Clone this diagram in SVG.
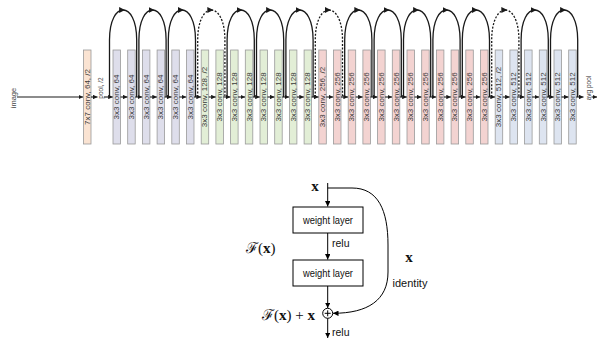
<svg xmlns="http://www.w3.org/2000/svg" width="597" height="340" viewBox="0 0 597 340">
<defs>
<style>
.b{stroke:#9a9a9a;stroke-width:0.8}
.c0{fill:#fae3d2}.c1{fill:#dedeeb}.c2{fill:#e2eed6}.c3{fill:#f3d3d1}.c4{fill:#dde4f0}
.bl{font-family:"Liberation Sans",Arial,sans-serif;font-size:8px;fill:#3a3a3a;text-anchor:middle;dominant-baseline:central}
.sl{font-family:"Liberation Sans",Arial,sans-serif;font-size:6.5px;fill:#444;text-anchor:middle;dominant-baseline:central}
.ln{stroke:#1a1a1a;stroke-width:1.1;fill:none}
.ar{stroke:#1a1a1a;stroke-width:1.3;fill:none}
.da{stroke-dasharray:2 1.6}
.wb{fill:#fff;stroke:#000;stroke-width:1}
.wt{font-family:"Liberation Sans",Arial,sans-serif;font-size:10.5px;fill:#111}
.mx{font-family:"Liberation Serif","Times New Roman",serif;font-size:15px;fill:#111}
.bx{font-family:"Liberation Serif","Times New Roman",serif;font-size:15px;font-weight:bold;fill:#111}
.k{stroke:#000;stroke-width:1;fill:none}
</style>
<marker id="h" viewBox="0 0 6 6" refX="6" refY="3" markerWidth="4.5" markerHeight="4.5" markerUnits="userSpaceOnUse" orient="auto"><path d="M0,0L6,3L0,6z" fill="#1a1a1a"/></marker>
<marker id="ha" viewBox="0 0 6 6" refX="4" refY="3" markerWidth="6" markerHeight="6" markerUnits="userSpaceOnUse" orient="auto"><path d="M0,0L6,3L0,6z" fill="#1a1a1a"/></marker>
<marker id="hb" viewBox="0 0 6 6" refX="6" refY="3" markerWidth="5.5" markerHeight="5.5" markerUnits="userSpaceOnUse" orient="auto"><path d="M0,0L6,3L0,6z" fill="#000"/></marker>
</defs>

<g id="image"><text class="sl" transform="translate(13,98) rotate(-90)" style="font-size:7.5px">image</text></g>
<g id="conv1"><rect class="b c0" x="83.5" y="50" width="7.5" height="94"/><text class="bl" transform="translate(87.25,97) rotate(-90)">7x7 conv, 64, /2</text></g>
<g id="pool"><text class="sl" transform="translate(100.5,88) rotate(-90)">pool, /2</text></g>

<g id="b0"><rect class="b c1" x="113" y="50" width="7.5" height="94"/><text class="bl" transform="translate(116.75,97) rotate(-90)">3x3 conv, 64</text></g>
<g id="b1"><rect class="b c1" x="127.7" y="50" width="7.5" height="94"/><text class="bl" transform="translate(131.45,97) rotate(-90)">3x3 conv, 64</text></g>
<g id="b2"><rect class="b c1" x="142.4" y="50" width="7.5" height="94"/><text class="bl" transform="translate(146.15,97) rotate(-90)">3x3 conv, 64</text></g>
<g id="b3"><rect class="b c1" x="157.1" y="50" width="7.5" height="94"/><text class="bl" transform="translate(160.85,97) rotate(-90)">3x3 conv, 64</text></g>
<g id="b4"><rect class="b c1" x="171.8" y="50" width="7.5" height="94"/><text class="bl" transform="translate(175.55,97) rotate(-90)">3x3 conv, 64</text></g>
<g id="b5"><rect class="b c1" x="186.5" y="50" width="7.5" height="94"/><text class="bl" transform="translate(190.25,97) rotate(-90)">3x3 conv, 64</text></g>
<g id="b6"><rect class="b c2" x="201.2" y="50" width="7.5" height="94"/><text class="bl" transform="translate(204.95,97) rotate(-90)">3x3 conv, 128, /2</text></g>
<g id="b7"><rect class="b c2" x="215.9" y="50" width="7.5" height="94"/><text class="bl" transform="translate(219.65,97) rotate(-90)">3x3 conv, 128</text></g>
<g id="b8"><rect class="b c2" x="230.6" y="50" width="7.5" height="94"/><text class="bl" transform="translate(234.35,97) rotate(-90)">3x3 conv, 128</text></g>
<g id="b9"><rect class="b c2" x="245.3" y="50" width="7.5" height="94"/><text class="bl" transform="translate(249.05,97) rotate(-90)">3x3 conv, 128</text></g>
<g id="b10"><rect class="b c2" x="260" y="50" width="7.5" height="94"/><text class="bl" transform="translate(263.75,97) rotate(-90)">3x3 conv, 128</text></g>
<g id="b11"><rect class="b c2" x="274.7" y="50" width="7.5" height="94"/><text class="bl" transform="translate(278.45,97) rotate(-90)">3x3 conv, 128</text></g>
<g id="b12"><rect class="b c2" x="289.4" y="50" width="7.5" height="94"/><text class="bl" transform="translate(293.15,97) rotate(-90)">3x3 conv, 128</text></g>
<g id="b13"><rect class="b c2" x="304.1" y="50" width="7.5" height="94"/><text class="bl" transform="translate(307.85,97) rotate(-90)">3x3 conv, 128</text></g>
<g id="b14"><rect class="b c3" x="318.8" y="50" width="7.5" height="94"/><text class="bl" transform="translate(322.55,97) rotate(-90)">3x3 conv, 256, /2</text></g>
<g id="b15"><rect class="b c3" x="333.5" y="50" width="7.5" height="94"/><text class="bl" transform="translate(337.25,97) rotate(-90)">3x3 conv, 256</text></g>
<g id="b16"><rect class="b c3" x="348.2" y="50" width="7.5" height="94"/><text class="bl" transform="translate(351.95,97) rotate(-90)">3x3 conv, 256</text></g>
<g id="b17"><rect class="b c3" x="362.9" y="50" width="7.5" height="94"/><text class="bl" transform="translate(366.65,97) rotate(-90)">3x3 conv, 256</text></g>
<g id="b18"><rect class="b c3" x="377.6" y="50" width="7.5" height="94"/><text class="bl" transform="translate(381.35,97) rotate(-90)">3x3 conv, 256</text></g>
<g id="b19"><rect class="b c3" x="392.3" y="50" width="7.5" height="94"/><text class="bl" transform="translate(396.05,97) rotate(-90)">3x3 conv, 256</text></g>
<g id="b20"><rect class="b c3" x="407" y="50" width="7.5" height="94"/><text class="bl" transform="translate(410.75,97) rotate(-90)">3x3 conv, 256</text></g>
<g id="b21"><rect class="b c3" x="421.7" y="50" width="7.5" height="94"/><text class="bl" transform="translate(425.45,97) rotate(-90)">3x3 conv, 256</text></g>
<g id="b22"><rect class="b c3" x="436.4" y="50" width="7.5" height="94"/><text class="bl" transform="translate(440.15,97) rotate(-90)">3x3 conv, 256</text></g>
<g id="b23"><rect class="b c3" x="451.1" y="50" width="7.5" height="94"/><text class="bl" transform="translate(454.85,97) rotate(-90)">3x3 conv, 256</text></g>
<g id="b24"><rect class="b c3" x="465.8" y="50" width="7.5" height="94"/><text class="bl" transform="translate(469.55,97) rotate(-90)">3x3 conv, 256</text></g>
<g id="b25"><rect class="b c3" x="480.5" y="50" width="7.5" height="94"/><text class="bl" transform="translate(484.25,97) rotate(-90)">3x3 conv, 256</text></g>
<g id="b26"><rect class="b c4" x="495.2" y="50" width="7.5" height="94"/><text class="bl" transform="translate(498.95,97) rotate(-90)">3x3 conv, 512, /2</text></g>
<g id="b27"><rect class="b c4" x="509.9" y="50" width="7.5" height="94"/><text class="bl" transform="translate(513.65,97) rotate(-90)">3x3 conv, 512</text></g>
<g id="b28"><rect class="b c4" x="524.6" y="50" width="7.5" height="94"/><text class="bl" transform="translate(528.35,97) rotate(-90)">3x3 conv, 512</text></g>
<g id="b29"><rect class="b c4" x="539.3" y="50" width="7.5" height="94"/><text class="bl" transform="translate(543.05,97) rotate(-90)">3x3 conv, 512</text></g>
<g id="b30"><rect class="b c4" x="554" y="50" width="7.5" height="94"/><text class="bl" transform="translate(557.75,97) rotate(-90)">3x3 conv, 512</text></g>
<g id="b31"><rect class="b c4" x="568.7" y="50" width="7.5" height="94"/><text class="bl" transform="translate(572.45,97) rotate(-90)">3x3 conv, 512</text></g>
<g id="avgpool"><text class="sl" transform="translate(588,88) rotate(-90)">avg pool</text></g>

<g id="connectors-top">
<line class="ln" x1="17" y1="97" x2="83" y2="97" marker-end="url(#h)"/>
<line class="ln" x1="91" y1="97" x2="97.5" y2="97" marker-end="url(#h)"/>
<line class="ln" x1="104" y1="97" x2="112.7" y2="97" marker-end="url(#h)"/>
<line class="ln" x1="120.5" y1="97" x2="127.4" y2="97" marker-end="url(#h)"/>
<line class="ln" x1="135.2" y1="97" x2="142.1" y2="97" marker-end="url(#h)"/>
<line class="ln" x1="149.9" y1="97" x2="156.8" y2="97" marker-end="url(#h)"/>
<line class="ln" x1="164.6" y1="97" x2="171.5" y2="97" marker-end="url(#h)"/>
<line class="ln" x1="179.3" y1="97" x2="186.2" y2="97" marker-end="url(#h)"/>
<line class="ln" x1="194" y1="97" x2="200.9" y2="97" marker-end="url(#h)"/>
<line class="ln" x1="208.7" y1="97" x2="215.6" y2="97" marker-end="url(#h)"/>
<line class="ln" x1="223.4" y1="97" x2="230.3" y2="97" marker-end="url(#h)"/>
<line class="ln" x1="238.1" y1="97" x2="245" y2="97" marker-end="url(#h)"/>
<line class="ln" x1="252.8" y1="97" x2="259.7" y2="97" marker-end="url(#h)"/>
<line class="ln" x1="267.5" y1="97" x2="274.4" y2="97" marker-end="url(#h)"/>
<line class="ln" x1="282.2" y1="97" x2="289.1" y2="97" marker-end="url(#h)"/>
<line class="ln" x1="296.9" y1="97" x2="303.8" y2="97" marker-end="url(#h)"/>
<line class="ln" x1="311.6" y1="97" x2="318.5" y2="97" marker-end="url(#h)"/>
<line class="ln" x1="326.3" y1="97" x2="333.2" y2="97" marker-end="url(#h)"/>
<line class="ln" x1="341" y1="97" x2="347.9" y2="97" marker-end="url(#h)"/>
<line class="ln" x1="355.7" y1="97" x2="362.6" y2="97" marker-end="url(#h)"/>
<line class="ln" x1="370.4" y1="97" x2="377.3" y2="97" marker-end="url(#h)"/>
<line class="ln" x1="385.1" y1="97" x2="392" y2="97" marker-end="url(#h)"/>
<line class="ln" x1="399.8" y1="97" x2="406.7" y2="97" marker-end="url(#h)"/>
<line class="ln" x1="414.5" y1="97" x2="421.4" y2="97" marker-end="url(#h)"/>
<line class="ln" x1="429.2" y1="97" x2="436.1" y2="97" marker-end="url(#h)"/>
<line class="ln" x1="443.9" y1="97" x2="450.8" y2="97" marker-end="url(#h)"/>
<line class="ln" x1="458.6" y1="97" x2="465.5" y2="97" marker-end="url(#h)"/>
<line class="ln" x1="473.3" y1="97" x2="480.2" y2="97" marker-end="url(#h)"/>
<line class="ln" x1="488" y1="97" x2="494.9" y2="97" marker-end="url(#h)"/>
<line class="ln" x1="502.7" y1="97" x2="509.6" y2="97" marker-end="url(#h)"/>
<line class="ln" x1="517.4" y1="97" x2="524.3" y2="97" marker-end="url(#h)"/>
<line class="ln" x1="532.1" y1="97" x2="539" y2="97" marker-end="url(#h)"/>
<line class="ln" x1="546.8" y1="97" x2="553.7" y2="97" marker-end="url(#h)"/>
<line class="ln" x1="561.5" y1="97" x2="568.4" y2="97" marker-end="url(#h)"/>
<line class="ln" x1="576.2" y1="97" x2="583.5" y2="97" marker-end="url(#h)"/>
<line class="ln" x1="591.5" y1="97" x2="597" y2="97" marker-end="url(#h)"/>

<path class="ar" d="M109.5,97V40C109.5,20 116.3,10 123.1,10" marker-end="url(#ha)"/><path class="ar" d="M123.1,10C129.9,10 136.7,20 136.7,40V97"/>
<path class="ar" d="M138.9,97V40C138.9,20 145.7,10 152.5,10" marker-end="url(#ha)"/><path class="ar" d="M152.5,10C159.3,10 166.1,20 166.1,40V97"/>
<path class="ar" d="M168.3,97V40C168.3,20 175.1,10 181.9,10" marker-end="url(#ha)"/><path class="ar" d="M181.9,10C188.7,10 195.5,20 195.5,40V97"/>
<path class="ar da" d="M197.7,97V40C197.7,20 204.5,10 211.3,10" marker-end="url(#ha)"/><path class="ar da" d="M211.3,10C218.1,10 224.9,20 224.9,40V97"/>
<path class="ar" d="M227.1,97V40C227.1,20 233.9,10 240.7,10" marker-end="url(#ha)"/><path class="ar" d="M240.7,10C247.5,10 254.3,20 254.3,40V97"/>
<path class="ar" d="M256.5,97V40C256.5,20 263.3,10 270.1,10" marker-end="url(#ha)"/><path class="ar" d="M270.1,10C276.9,10 283.7,20 283.7,40V97"/>
<path class="ar" d="M285.9,97V40C285.9,20 292.7,10 299.5,10" marker-end="url(#ha)"/><path class="ar" d="M299.5,10C306.3,10 313.1,20 313.1,40V97"/>
<path class="ar da" d="M315.3,97V40C315.3,20 322.1,10 328.9,10" marker-end="url(#ha)"/><path class="ar da" d="M328.9,10C335.7,10 342.5,20 342.5,40V97"/>
<path class="ar" d="M344.7,97V40C344.7,20 351.5,10 358.3,10" marker-end="url(#ha)"/><path class="ar" d="M358.3,10C365.1,10 371.9,20 371.9,40V97"/>
<path class="ar" d="M374.1,97V40C374.1,20 380.9,10 387.7,10" marker-end="url(#ha)"/><path class="ar" d="M387.7,10C394.5,10 401.3,20 401.3,40V97"/>
<path class="ar" d="M403.5,97V40C403.5,20 410.3,10 417.1,10" marker-end="url(#ha)"/><path class="ar" d="M417.1,10C423.9,10 430.7,20 430.7,40V97"/>
<path class="ar" d="M432.9,97V40C432.9,20 439.7,10 446.5,10" marker-end="url(#ha)"/><path class="ar" d="M446.5,10C453.3,10 460.1,20 460.1,40V97"/>
<path class="ar" d="M462.3,97V40C462.3,20 469.1,10 475.9,10" marker-end="url(#ha)"/><path class="ar" d="M475.9,10C482.7,10 489.5,20 489.5,40V97"/>
<path class="ar da" d="M491.7,97V40C491.7,20 498.5,10 505.3,10" marker-end="url(#ha)"/><path class="ar da" d="M505.3,10C512.1,10 518.9,20 518.9,40V97"/>
<path class="ar" d="M521.1,97V40C521.1,20 527.9,10 534.7,10" marker-end="url(#ha)"/><path class="ar" d="M534.7,10C541.5,10 548.3,20 548.3,40V97"/>
<path class="ar" d="M550.5,97V40C550.5,20 557.3,10 564.1,10" marker-end="url(#ha)"/><path class="ar" d="M564.1,10C570.9,10 577.7,20 577.7,40V97"/>
</g>

<g id="x-in"><text class="bx" x="315" y="191" text-anchor="middle">x</text></g>
<g id="weight1"><rect class="wb" x="293" y="207" width="70" height="26"/><text class="wt" x="328" y="224" text-anchor="middle" textLength="50" lengthAdjust="spacingAndGlyphs" style="font-size:11.5px">weight layer</text></g>
<g id="weight2"><rect class="wb" x="293" y="260" width="70" height="26"/><text class="wt" x="328" y="277" text-anchor="middle" textLength="50" lengthAdjust="spacingAndGlyphs" style="font-size:11.5px">weight layer</text></g>
<g id="add"><circle class="k" cx="327.7" cy="313.3" r="5"/><path class="k" d="M327.7,310.3V316.3M324.7,313.3H330.7"/></g>
<g id="labels">
<text class="mx" x="246" y="253">ℱ(<tspan font-weight="bold">x</tspan>)</text>
<text class="mx" x="262" y="320">ℱ(<tspan font-weight="bold">x</tspan>) + <tspan font-weight="bold">x</tspan></text>
<text class="wt" x="332" y="247">relu</text>
<text class="wt" x="332" y="336">relu</text>
<text class="bx" x="409" y="262" text-anchor="middle">x</text>
<text class="wt" x="410" y="287" text-anchor="middle" style="font-size:11px">identity</text>
</g>
<g id="connectors-block">
<path class="k" d="M327.7,183V206.5" marker-end="url(#hb)"/>
<path class="k" d="M327.7,233V259.5" marker-end="url(#hb)"/>
<path class="k" d="M327.7,286V308" marker-end="url(#hb)"/>
<path class="k" d="M327.7,318.3V338" marker-end="url(#hb)"/>
<path class="k" d="M327.7,188H352C378,188 388,210 388,245V272C388,300 368,313.3 333,313.3" marker-end="url(#hb)"/>
</g>
</svg>
